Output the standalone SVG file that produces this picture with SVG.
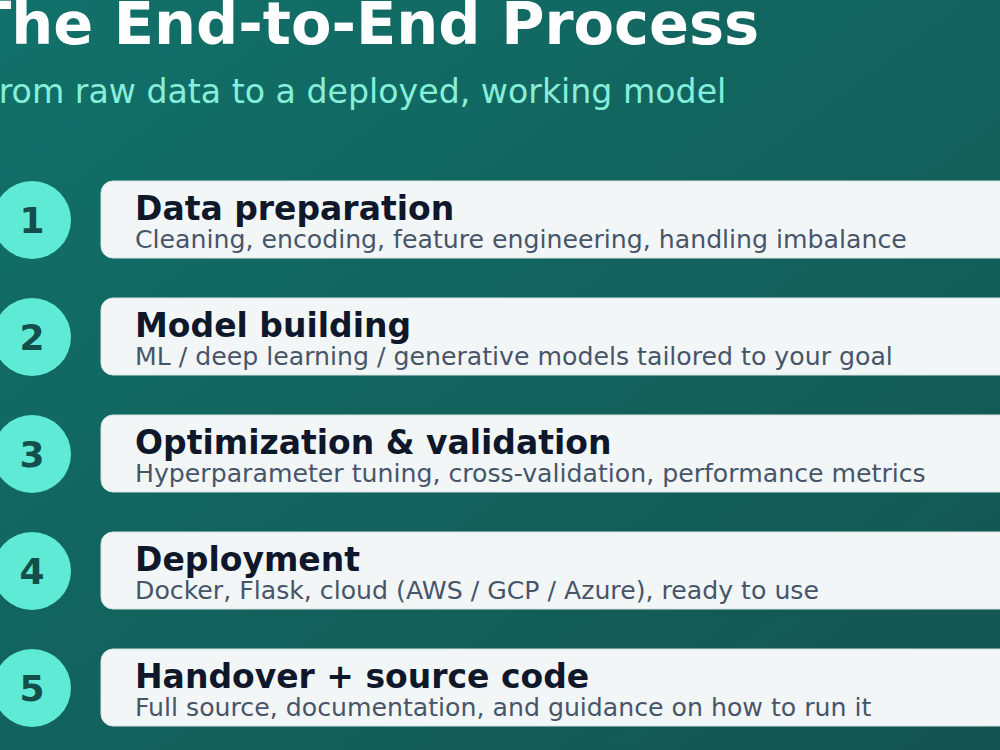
<svg xmlns="http://www.w3.org/2000/svg" width="1000" height="750" viewBox="0 0 1000 750">
  <defs>
    <linearGradient id="bg" x1="0" y1="0" x2="1" y2="1">
      <stop offset="0" stop-color="#11716a"/>
      <stop offset="1" stop-color="#145450"/>
    </linearGradient>
    <style>
      .title { font-family: "DejaVu Sans", sans-serif; font-weight: bold; font-size: 59px; fill: #ffffff; }
      .sub { font-family: "DejaVu Sans", sans-serif; font-size: 33.2px; fill: #86efd9; }
      .circ { fill: #5eead4; }
      .num { font-family: "DejaVu Sans", sans-serif; font-weight: bold; font-size: 36px; fill: #134e4a; text-anchor: middle; }
      .card { fill: #f3f6f7; stroke: #d5e4e2; stroke-width: 1; }
      .ct { font-family: "DejaVu Sans", sans-serif; font-weight: bold; font-size: 33px; fill: #0f172a; }
      .cd { font-family: "DejaVu Sans", sans-serif; font-size: 25.2px; fill: #475569; }
    </style>
  </defs>
  <rect x="0" y="0" width="1000" height="750" fill="url(#bg)"/>
  <text class="title" x="-29" y="44">The End-to-End Process</text>
  <text class="sub" x="-18" y="103">From raw data to a deployed, working model</text>

  <g id="step1">
    <circle class="circ" cx="32" cy="220" r="39"/>
    <text class="num" x="32" y="233">1</text>
    <rect class="card" x="101" y="181" width="940" height="77" rx="12"/>
    <text class="ct" x="135" y="220">Data preparation</text>
    <text class="cd" x="135" y="248">Cleaning, encoding, feature engineering, handling imbalance</text>
  </g>
  <g id="step2">
    <circle class="circ" cx="32" cy="337" r="39"/>
    <text class="num" x="32" y="350">2</text>
    <rect class="card" x="101" y="298" width="940" height="77" rx="12"/>
    <text class="ct" x="135" y="337">Model building</text>
    <text class="cd" x="135" y="365">ML / deep learning / generative models tailored to your goal</text>
  </g>
  <g id="step3">
    <circle class="circ" cx="32" cy="454" r="39"/>
    <text class="num" x="32" y="467">3</text>
    <rect class="card" x="101" y="415" width="940" height="77" rx="12"/>
    <text class="ct" x="135" y="454">Optimization &amp; validation</text>
    <text class="cd" x="135" y="482">Hyperparameter tuning, cross-validation, performance metrics</text>
  </g>
  <g id="step4">
    <circle class="circ" cx="32" cy="571" r="39"/>
    <text class="num" x="32" y="584">4</text>
    <rect class="card" x="101" y="532" width="940" height="77" rx="12"/>
    <text class="ct" x="135" y="571">Deployment</text>
    <text class="cd" x="135" y="599">Docker, Flask, cloud (AWS / GCP / Azure), ready to use</text>
  </g>
  <g id="step5">
    <circle class="circ" cx="32" cy="688" r="39"/>
    <text class="num" x="32" y="701">5</text>
    <rect class="card" x="101" y="649" width="940" height="77" rx="12"/>
    <text class="ct" x="135" y="688">Handover + source code</text>
    <text class="cd" x="135" y="716">Full source, documentation, and guidance on how to run it</text>
  </g>
  <g id="connectors"/>
</svg>
